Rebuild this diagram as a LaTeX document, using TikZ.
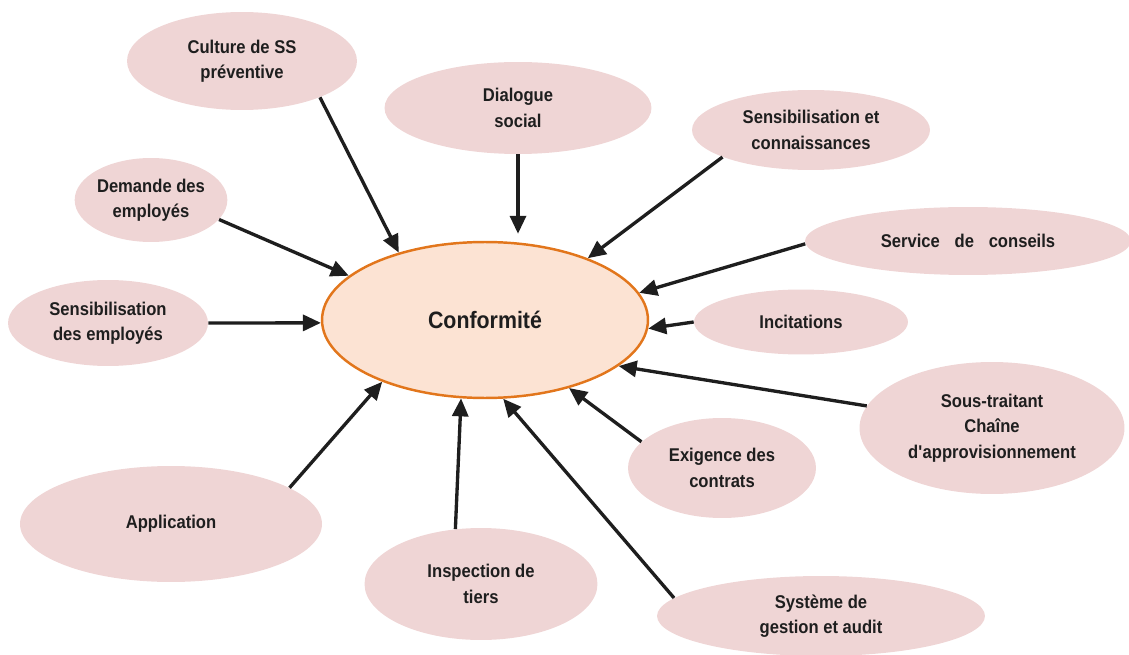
\documentclass[tikz,border=0pt]{standalone}
\usepackage{fontspec}
\setmainfont{Liberation Sans}[FakeStretch=0.9]
\usetikzlibrary{arrows.meta,shapes.geometric}

\definecolor{pinkfill}{HTML}{EFD5D5}
\definecolor{peach}{HTML}{FCE3D3}
\definecolor{orangeline}{HTML}{E2761C}
\definecolor{arrowgray}{HTML}{1E1E1E}

\begin{document}
\begin{tikzpicture}[
    x=0.02cm, y=-0.02cm,
    every node/.style={font=\fontsize{10.5}{14.5}\selectfont\bfseries, align=center, text=arrowgray},
    factor/.style={ellipse, fill=pinkfill, inner sep=0pt},
    central/.style={ellipse, draw=orangeline, line width=1.4pt, fill=peach, inner sep=0pt,
        minimum width=6.52cm, minimum height=3.12cm, font=\fontsize{13.5}{16}\selectfont\bfseries},
    arrow/.style={-{Triangle[length=3.6mm,width=3.2mm]}, line width=1.9pt, draw=arrowgray}
]
\useasboundingbox (0,0) rectangle (1129,655);

\node[central] (conf) at (485,320) {Conformité};

\node[factor, minimum width=4.6cm,  minimum height=1.96cm] (cult) at (242,61)  {Culture de SS\\préventive};
\node[factor, minimum width=5.34cm, minimum height=1.84cm] (dial) at (518,108) {Dialogue\\social};
\node[factor, minimum width=4.76cm, minimum height=1.6cm]  (sens) at (811,130) {Sensibilisation et\\connaissances};
\node[factor, minimum width=2.94cm, minimum height=1.68cm] (dem)  at (151,200) {Demande des\\employés};
\node[factor, minimum width=6.52cm, minimum height=1.36cm] (serv) at (968,241) {Service\hspace{0.8em}de\hspace{0.8em}conseils};
\node[factor, minimum width=4.0cm,  minimum height=1.72cm] (semp) at (108,323) {Sensibilisation\\des employés};
\node[factor, minimum width=4.28cm, minimum height=1.3cm]  (inc)  at (801,322) {Incitations};
\node[factor, minimum width=5.3cm,  minimum height=2.64cm] (sous) at (992,428) {Sous-traitant\\Chaîne\\d\textquotesingle approvisionnement};
\node[factor, minimum width=3.76cm, minimum height=2.0cm]  (exig) at (722,468) {Exigence des\\contrats};
\node[factor, minimum width=6.04cm, minimum height=2.32cm] (app)  at (171,524) {Application};
\node[factor, minimum width=4.66cm, minimum height=2.24cm] (insp) at (481,584) {Inspection de\\tiers};
\node[factor, minimum width=6.56cm, minimum height=1.6cm]  (sys)  at (821,616) {Système de\\gestion et audit};

% arrows into the centre
\draw[arrow] (cult.335)   -- (conf.142);
\draw[arrow, shorten >=4pt] (dial.south) -- (dial.south |- conf.north);
\draw[arrow] (sens.197)   -- (conf.31.4);
\draw[arrow] (dem.344)    -- (conf.162);
\draw[arrow] (serv.181)   -- (conf.10.4);
\draw[arrow] (semp.east)  -- (conf.181);
\draw[arrow] (inc.west)   -- (conf.357.5);
\draw[arrow] (sous.170.8) -- (conf.341.7);
\draw[arrow] (exig.162)   -- (conf.321);
\draw[arrow] (app.17.8)   -- (conf.211);
\draw[arrow] (insp.115.3) -- (conf.253);
\draw[arrow] (sys.173.1)  -- (conf.283.5);

\end{tikzpicture}
\end{document}
